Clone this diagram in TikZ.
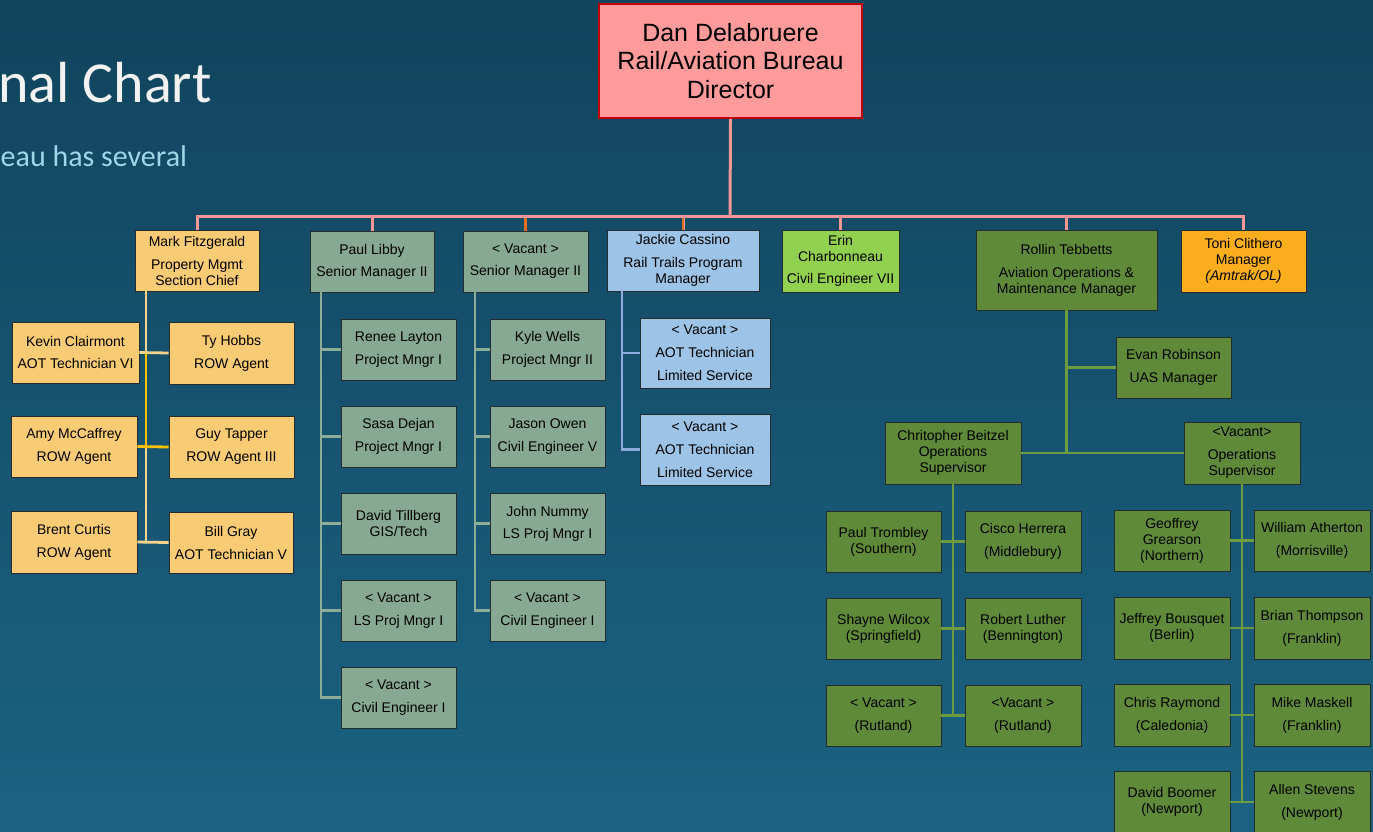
\documentclass[tikz,border=0pt]{standalone}
\usepackage{fontspec}
\setmainfont{Liberation Sans}
\newfontfamily\titlefont{Carlito}
\definecolor{bgtop}{RGB}{17,68,93}
\definecolor{bgbot}{RGB}{27,98,130}
\definecolor{pinkln}{RGB}{242,150,150}
\definecolor{orangeln}{RGB}{226,110,35}
\definecolor{dirfill}{RGB}{255,155,155}
\definecolor{dirborder}{RGB}{192,0,0}
\definecolor{yfill}{RGB}{248,203,116}
\definecolor{yline}{RGB}{247,211,140}
\definecolor{goldln}{RGB}{255,192,0}
\definecolor{gfill}{RGB}{135,168,146}
\definecolor{gline}{RGB}{140,174,152}
\definecolor{bfill}{RGB}{157,195,230}
\definecolor{bline}{RGB}{143,170,220}
\definecolor{lgfill}{RGB}{146,208,80}
\definecolor{dgfill}{RGB}{95,138,58}
\definecolor{dgline}{RGB}{108,155,64}
\definecolor{ofill}{RGB}{250,174,30}
\definecolor{boxline}{RGB}{35,45,45}
\definecolor{titlecol}{RGB}{242,242,242}
\definecolor{subcol}{RGB}{160,214,232}
\tikzset{
  basebox/.style={draw=boxline, line width=0.8pt, inner sep=0pt, align=center,
    font=\fontsize{14}{16}\selectfont, text=black},
  dirbox/.style={fill=dirfill, draw=dirborder, line width=2pt, inner sep=0pt, align=center,
    font=\fontsize{25}{28.5}\selectfont, text=black},
  ybox/.style={basebox, fill=yfill},
  gbox/.style={basebox, fill=gfill},
  bbox/.style={basebox, fill=bfill},
  lgbox/.style={basebox, fill=lgfill},
  dgbox/.style={basebox, fill=dgfill},
  obox/.style={basebox, fill=ofill},
  conn/.style={line width=2.8pt},
  pinkconn/.style={conn, draw=pinkln, line width=3pt},
  orangeconn/.style={conn, draw=orangeln},
  yconn/.style={conn, draw=yline},
  goldconn/.style={conn, draw=goldln},
  gconn/.style={conn, draw=gline},
  bconn/.style={conn, draw=bline},
  dgconn/.style={conn, draw=dgline},
}
\newcommand{\orgbox}[7]{\node[#6, minimum width={#4-#2}, minimum height={#5-#3}] (#1) at ({(#2+#4)/2},{(#3+#5)/2}) {#7};}
\begin{document}
\begin{tikzpicture}[x=1pt,y=-1pt]
\useasboundingbox (0,0) rectangle (1373,831);
\clip (0,0) rectangle (1373,831);
\shade[top color=bgtop, bottom color=bgbot] (0,0) rectangle (1373,831);

% title
\node[anchor=base west, inner sep=0pt, text=titlecol, font=\titlefont\fontsize{58}{58}\selectfont] (title) at (-2,102) {nal Chart};
\node[anchor=base west, inner sep=0pt, text=subcol, font=\titlefont\fontsize{30}{30}\selectfont] (subtitle) at (0.5,166) {eau has several};

% director
\orgbox{dir}{599}{4}{862}{118}{dirbox}{Dan Delabruere\\Rail/Aviation Bureau\\Director}

% level 1
\orgbox{mark}{135}{230}{259}{291}{ybox}{Mark Fitzgerald\\[7pt]Property Mgmt\\Section Chief}
\orgbox{paul}{310}{231}{434}{292}{gbox}{Paul Libby\\[6pt]Senior Manager II}
\orgbox{vsm}{463}{231}{588}{292}{gbox}{< Vacant >\\[6pt]Senior Manager II}
\orgbox{jackie}{607}{230}{759}{291}{bbox}{Jackie Cassino\\[7pt]Rail Trails Program\\Manager}
\orgbox{erin}{782}{230}{899}{292}{lgbox}{Erin\\Charbonneau\\[6pt]Civil Engineer VII}
\orgbox{rollin}{976}{230}{1157}{310}{dgbox}{Rollin Tebbetts\\[7pt]Aviation Operations \&\\Maintenance Manager}
\orgbox{toni}{1181}{230}{1306}{292}{obox}{Toni Clithero\\Manager\\\textit{(Amtrak/OL)}}

% Mark group
\orgbox{kevin}{12}{322}{139}{383}{ybox}{Kevin Clairmont\\[6pt]AOT Technician VI}
\orgbox{ty}{169}{322}{294}{384}{ybox}{Ty Hobbs\\[7pt]ROW Agent}
\orgbox{amy}{11}{416}{137}{477}{ybox}{Amy McCaffrey\\[7pt]ROW Agent}
\orgbox{guy}{169}{416}{294}{478}{ybox}{Guy Tapper\\[7pt]ROW Agent III}
\orgbox{brent}{11}{511}{137}{573}{ybox}{Brent Curtis\\[7pt]ROW Agent}
\orgbox{bill}{169}{512}{293}{573}{ybox}{Bill Gray\\[7pt]AOT Technician V}

% Paul group
\orgbox{renee}{341}{319}{456}{380}{gbox}{Renee Layton\\[7pt]Project Mngr I}
\orgbox{sasa}{341}{406}{456}{467}{gbox}{Sasa Dejan\\[7pt]Project Mngr I}
\orgbox{tillberg}{341}{493}{456}{554}{gbox}{David Tillberg\\GIS/Tech}
\orgbox{pvone}{341}{580}{456}{641}{gbox}{< Vacant >\\[7pt]LS Proj Mngr I}
\orgbox{pvtwo}{341}{667}{456}{728}{gbox}{< Vacant >\\[7pt]Civil Engineer I}

% Vacant SM group
\orgbox{kyle}{490}{319}{605}{380}{gbox}{Kyle Wells\\[7pt]Project Mngr II}
\orgbox{jason}{490}{406}{605}{467}{gbox}{Jason Owen\\[7pt]Civil Engineer V}
\orgbox{nummy}{490}{493}{605}{554}{gbox}{John Nummy\\[6pt]LS Proj Mngr I}
\orgbox{vvone}{490}{580}{605}{641}{gbox}{< Vacant >\\[7pt]Civil Engineer I}

% Jackie group
\orgbox{jvone}{640}{318}{770}{388}{bbox}{< Vacant >\\[7pt]AOT Technician\\[7pt]Limited Service}
\orgbox{jvtwo}{640}{414}{770}{485}{bbox}{< Vacant >\\[7pt]AOT Technician\\[7pt]Limited Service}

% Rollin group
\orgbox{evan}{1116}{337}{1231}{398}{dgbox}{Evan Robinson\\[7pt]UAS Manager}
\orgbox{beitzel}{885}{422}{1021}{484}{dgbox}{Chritopher Beitzel\\Operations\\Supervisor}
\orgbox{vos}{1184}{422}{1300}{484}{dgbox}{<Vacant>\\[7pt]Operations\\Supervisor}

\orgbox{trombley}{826}{511}{941}{572}{dgbox}{Paul Trombley\\(Southern)}
\orgbox{cisco}{965}{511}{1081}{572}{dgbox}{Cisco Herrera\\[7pt](Middlebury)}
\orgbox{shayne}{826}{598}{941}{659}{dgbox}{Shayne Wilcox\\(Springfield)}
\orgbox{luther}{965}{598}{1081}{659}{dgbox}{Robert Luther\\(Bennington)}
\orgbox{rutone}{826}{685}{941}{746}{dgbox}{< Vacant >\\[7pt](Rutland)}
\orgbox{ruttwo}{965}{685}{1081}{746}{dgbox}{<Vacant >\\[7pt](Rutland)}

\orgbox{geoffrey}{1114}{510}{1230}{571}{dgbox}{Geoffrey\\Grearson\\(Northern)}
\orgbox{atherton}{1254}{510}{1370}{571}{dgbox}{William Atherton\\[7pt](Morrisville)}
\orgbox{bousquet}{1114}{597}{1230}{659}{dgbox}{Jeffrey Bousquet\\(Berlin)}
\orgbox{thompson}{1254}{597}{1370}{659}{dgbox}{Brian Thompson\\[7pt](Franklin)}
\orgbox{raymond}{1114}{684}{1230}{746}{dgbox}{Chris Raymond\\[7pt](Caledonia)}
\orgbox{maskell}{1254}{684}{1370}{746}{dgbox}{Mike Maskell\\[7pt](Franklin)}
\orgbox{boomer}{1114}{771}{1230}{833}{dgbox}{David Boomer\\(Newport)}
\orgbox{stevens}{1254}{771}{1370}{833}{dgbox}{Allen Stevens\\[7pt](Newport)}

% ---- connectors
\coordinate (bus) at (730,216);
\draw[pinkconn] (dir.south) -- (bus);
\foreach \n in {mark,paul,vsm,jackie,erin,rollin,toni}{
  \draw[pinkconn] (\n.north) |- (bus);
}
\draw[orangeconn, shorten >=1.5pt] (vsm.north) -- (vsm.north |- bus);
\draw[orangeconn, shorten >=1.5pt] (jackie.north) -- (jackie.north |- bus);

% Mark
\coordinate (mt) at (146,291);
\draw[yconn] (mt) -- (mt |- brent.east);
\draw[yconn] (kevin.east) -- (ty.west);
\draw[yconn] (brent.east) -- (bill.west);
\draw[goldconn] (mt |- kevin.east) -- (mt |- amy.east);
\draw[goldconn] (amy.east) -- (guy.west);

% Paul
\coordinate (pt) at (321,292);
\draw[gconn] (pt) |- (pvtwo.west);
\foreach \n in {renee,sasa,tillberg,pvone}{
  \draw[gconn] (pt |- \n.west) -- (\n.west);
}
% Vacant SM
\coordinate (vt) at (475,292);
\draw[gconn] (vt) |- (vvone.west);
\foreach \n in {kyle,jason,nummy}{
  \draw[gconn] (vt |- \n.west) -- (\n.west);
}
% Jackie
\coordinate (jt) at (622,291);
\draw[bconn] (jt) |- (jvtwo.west);
\draw[bconn] (jt |- jvone.west) -- (jvone.west);

% Rollin
\draw[dgconn] (rollin.south) -- (rollin.south |- beitzel.east);
\draw[dgconn] (rollin.south |- evan.west) -- (evan.west);
\draw[dgconn] (beitzel.east) -- (vos.west);

% Beitzel
\draw[dgconn] (beitzel.south) -- (beitzel.south |- rutone.east);
\draw[dgconn] (trombley.east) -- (cisco.west);
\draw[dgconn] (shayne.east) -- (luther.west);
\draw[dgconn] (rutone.east) -- (ruttwo.west);

% Vacant OS
\draw[dgconn] (vos.south) -- (vos.south |- boomer.east);
\draw[dgconn] (geoffrey.east) -- (atherton.west);
\draw[dgconn] (bousquet.east) -- (thompson.west);
\draw[dgconn] (raymond.east) -- (maskell.west);
\draw[dgconn] (boomer.east) -- (stevens.west);
\end{tikzpicture}
\end{document}
